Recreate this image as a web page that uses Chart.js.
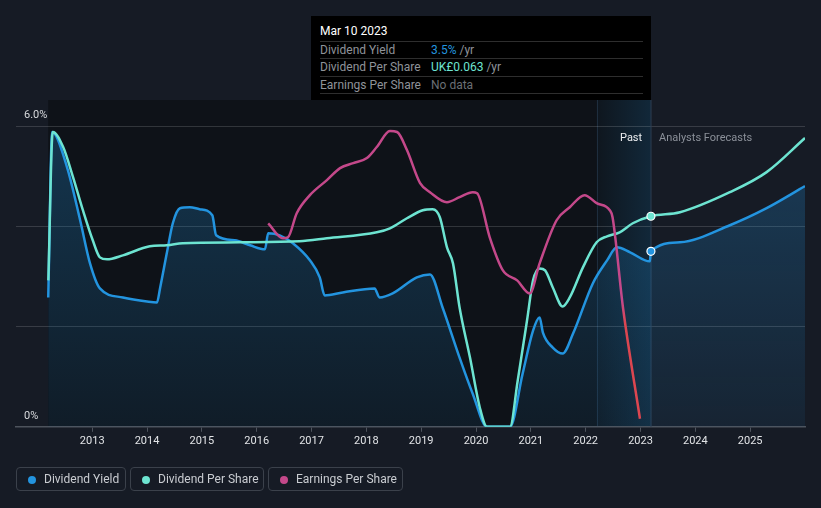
<!DOCTYPE html>
<html><head><meta charset="utf-8">
<script src="https://cdn.jsdelivr.net/npm/chart.js@4/dist/chart.umd.min.js"></script>
<style>
html,body{margin:0;padding:0;background:#161b25;width:821px;height:508px;overflow:hidden;font-family:Roboto,"Noto Sans",sans-serif;}
#wrap{position:absolute;left:0;top:0;width:821px;height:508px;}
#tip{position:absolute;left:311px;top:16px;width:340px;height:84px;background:#000;color:#fff;font-size:12px;}
#tip .t{position:absolute;left:9px;top:8px;color:#fff;}
#tip .r{position:absolute;left:9px;width:323px;height:17px;border-top:1px solid #2e2e2e;}
#tip .l{position:absolute;left:0;top:1px;color:#8f9399;}
#tip .v{position:absolute;left:111px;top:1px;color:#8f9399;}
#tip .end{position:absolute;left:9px;top:77px;width:323px;border-top:1px solid #2e2e2e;}
.lab{position:absolute;font-size:11px;top:131px;}
#legend .b{position:absolute;top:467px;height:24px;border:1px solid #3b414b;border-radius:4px;box-sizing:border-box;color:#c9ccd1;font-size:12px;line-height:23px;}
#legend .d{position:absolute;left:11px;top:8px;width:8px;height:8px;border-radius:50%;}
#legend .tx{position:absolute;left:27px;top:0;white-space:nowrap;}
</style></head>
<body>
<div id="wrap"><canvas id="c" width="821" height="508"></canvas></div>
<div id="tip">
  <div class="t">Mar 10 2023</div>
  <div class="r" style="top:25px"><span class="l">Dividend Yield</span><span class="v"><span style="color:#2394df">3.5%</span> /yr</span></div>
  <div class="r" style="top:42px"><span class="l">Dividend Per Share</span><span class="v"><span style="color:#6de4d1">UK£0.063</span> /yr</span></div>
  <div class="r" style="top:60px"><span class="l">Earnings Per Share</span><span class="v" style="color:#6b6f75">No data</span></div>
  <div class="end"></div>
</div>
<div class="lab" style="left:620px;color:#eceef0;">Past</div>
<div class="lab" style="left:659px;color:#8b9099;">Analysts Forecasts</div>
<div id="legend">
  <div class="b" style="left:16px;width:110px"><span class="d" style="background:#2394df"></span><span class="tx">Dividend Yield</span></div>
  <div class="b" style="left:130px;width:134px"><span class="d" style="background:#6de4d1"></span><span class="tx">Dividend Per Share</span></div>
  <div class="b" style="left:268px;width:135px"><span class="d" style="background:#c4488a"></span><span class="tx">Earnings Per Share</span></div>
</div>
<script>
// ---- data (x = decimal year) ----
const dyYears = [2012.198,2012.27,2012.54,2012.78,2012.96,2013.14,2013.56,2014.0,2014.18,2014.24,2014.36,2014.47,2014.6,2014.78,2014.96,2015.19,2015.26,2015.6,2015.88,2016.15,2016.21,2016.42,2016.66,2016.97,2017.15,2017.24,2017.57,2018.15,2018.24,2018.48,2018.92,2019.16,2019.39,2019.7,2019.94,2020.2,2020.62,2020.85,2021.04,2021.16,2021.22,2021.4,2021.58,2021.77,2022.13,2022.39,2022.57,2022.81,2023.17,2023.19,2023.72,2024.63,2025.3,2026.0];
const dyValues = [2.58,5.88,5.18,4.12,3.26,2.76,2.58,2.5,2.48,2.78,3.46,4.06,4.36,4.38,4.34,4.22,3.82,3.72,3.62,3.54,3.86,3.82,3.66,3.32,2.98,2.62,2.68,2.76,2.58,2.66,2.98,3.04,2.38,1.38,0.66,0,0,1.06,1.92,2.18,1.88,1.58,1.46,1.86,2.86,3.32,3.58,3.48,3.3,3.5,3.68,4.02,4.36,4.8];
const dpsYears = [2012.2,2012.28,2012.47,2012.65,2012.83,2013.01,2013.14,2013.27,2013.56,2014.05,2014.36,2014.65,2015.69,2016.78,2017.28,2018.19,2018.43,2018.74,2019.03,2019.21,2019.34,2019.47,2019.58,2019.7,2019.89,2020.07,2020.2,2020.62,2020.76,2020.93,2021.04,2021.16,2021.26,2021.4,2021.58,2021.71,2021.95,2022.2,2022.39,2022.62,2022.86,2023.19,2023.72,2024.63,2025.3,2026.0];
const dpsValues = [0.0438,0.0882,0.0837,0.0747,0.0648,0.0558,0.0507,0.0501,0.0513,0.054,0.0543,0.0549,0.0552,0.0555,0.0564,0.0582,0.0594,0.0624,0.0648,0.0651,0.0627,0.0537,0.0489,0.0357,0.0207,0.0057,0,0,0.0138,0.0318,0.0438,0.0474,0.0468,0.0417,0.036,0.0387,0.0477,0.0552,0.057,0.0582,0.0609,0.063,0.0642,0.0702,0.0762,0.0864];
const epsYears = [2016.21,2016.48,2016.57,2016.73,2016.97,2017.28,2017.52,2017.76,2018.01,2018.19,2018.43,2018.56,2018.74,2018.98,2019.16,2019.47,2019.7,2019.94,2020.02,2020.25,2020.49,2020.75,2020.98,2021.16,2021.47,2021.71,2021.98,2022.2,2022.44,2022.49,2022.68,2022.99];
const epsValues = [0.1015,0.094,0.0945,0.1065,0.1155,0.123,0.129,0.1315,0.134,0.1395,0.1475,0.147,0.138,0.1215,0.117,0.112,0.1145,0.117,0.1165,0.0945,0.078,0.073,0.0665,0.0815,0.103,0.1095,0.1155,0.1115,0.108,0.1045,0.0595,0.004];
const xTickYears = [2013,2014,2015,2016,2017,2018,2019,2020,2021,2022,2023,2024,2025];
const yTickLabels = {0:'0%',6:'6.0%'};
const dataStart = 2012.198, pastStart = 2022.2, nowYear = 2023.19;

const BLUE='#2394df', TEAL='#6de4d1', PINK='#c4488a', RED='#dc4650';

const toPts=(xs,ys)=>xs.map((x,i)=>({x:x,y:ys[i]}));
const dot=(c)=>c.raw && c.raw.x===nowYear ? 4 : 0;

const bgPlugin={id:'bg',
  beforeDraw(chart){
    const {ctx,chartArea:a,scales:{x}}=chart;
    const x0=x.getPixelForValue(dataStart), xn=x.getPixelForValue(nowYear), xp=x.getPixelForValue(pastStart);
    const top=100;
    ctx.save();
    ctx.fillStyle='#0e1218';
    ctx.fillRect(x0,top,xn-x0,a.bottom-top);
    const g=ctx.createLinearGradient(xp,0,xn,0);
    g.addColorStop(0,'rgba(35,148,223,0.03)');
    g.addColorStop(1,'rgba(35,148,223,0.17)');
    ctx.fillStyle=g;
    ctx.fillRect(xp,top,xn-xp,a.bottom-top);
    ctx.fillStyle='rgba(60,90,120,0.35)';
    ctx.fillRect(Math.round(xp),top,1,a.bottom-top);
    ctx.restore();
  },
  beforeDatasetsDraw(chart){
    const {ctx,chartArea:a,scales:{x}}=chart;
    const xn=x.getPixelForValue(nowYear);
    ctx.save();
    ctx.fillStyle='#2c3e52';
    ctx.fillRect(Math.round(xn)-0.5,100,1,a.bottom-100);
    ctx.restore();
  }
};

Chart.defaults.font.family='Roboto, "Noto Sans", sans-serif';
new Chart(document.getElementById('c'),{
  type:'line',
  data:{datasets:[
    {label:'Earnings Per Share',data:toPts(epsYears,epsValues),yAxisID:'yEps',
     borderColor:(c)=>{const a=c.chart.chartArea; if(!a) return PINK; const g=c.chart.ctx.createLinearGradient(0,a.top,0,a.bottom); g.addColorStop(0,PINK); g.addColorStop(0.58,PINK); g.addColorStop(0.66,RED); g.addColorStop(1,RED); return g;},
     borderWidth:2.5,pointRadius:0,cubicInterpolationMode:'monotone',fill:false},
    {label:'Dividend Per Share',data:toPts(dpsYears,dpsValues),yAxisID:'yDps',borderColor:TEAL,borderWidth:2.5,
     pointRadius:dot,pointBackgroundColor:TEAL,pointBorderColor:'#ffffff',pointBorderWidth:1.2,cubicInterpolationMode:'monotone',fill:false},
    {label:'Dividend Yield',data:toPts(dyYears,dyValues),yAxisID:'y',borderColor:BLUE,borderWidth:2.5,
     pointRadius:dot,pointBackgroundColor:BLUE,pointBorderColor:'#ffffff',pointBorderWidth:1.2,cubicInterpolationMode:'monotone',
     fill:'origin',
     backgroundColor:(c)=>{const a=c.chart.chartArea; if(!a) return 'rgba(35,148,223,0.2)'; const g=c.chart.ctx.createLinearGradient(0,a.top,0,a.bottom); g.addColorStop(0,'rgba(35,148,223,0.28)'); g.addColorStop(1,'rgba(35,148,223,0.08)'); return g;}}
  ]},
  options:{
    responsive:false,animation:false,
    layout:{padding:{top:126,left:0,right:16,bottom:57}},
    plugins:{legend:{display:false},tooltip:{enabled:false}},
    scales:{
      x:{type:'linear',min:2011.61,max:2026.0,
        afterBuildTicks:(s)=>{s.ticks=xTickYears.map(v=>({value:v}));},
        ticks:{callback:(v)=>String(v),color:'#e2e4e7',font:{size:11},padding:3,maxRotation:0,autoSkip:false},
        grid:{display:true,drawOnChartArea:false,tickLength:5,color:'#4d535c'},
        border:{display:true,color:'#4d535c',width:1.5}},
      y:{min:0,max:6,position:'left',
        ticks:{stepSize:2,mirror:true,padding:8,labelOffset:-11,color:'#d8dadd',font:{size:11},callback:(v)=>yTickLabels[v]||''},
        grid:{color:'rgba(255,255,255,0.15)',drawTicks:false},
        border:{display:false}},
      yDps:{min:0,max:0.09,display:false},
      yEps:{min:0,max:0.15,display:false}
    }
  },
  plugins:[bgPlugin]
});
</script>
</body></html>
